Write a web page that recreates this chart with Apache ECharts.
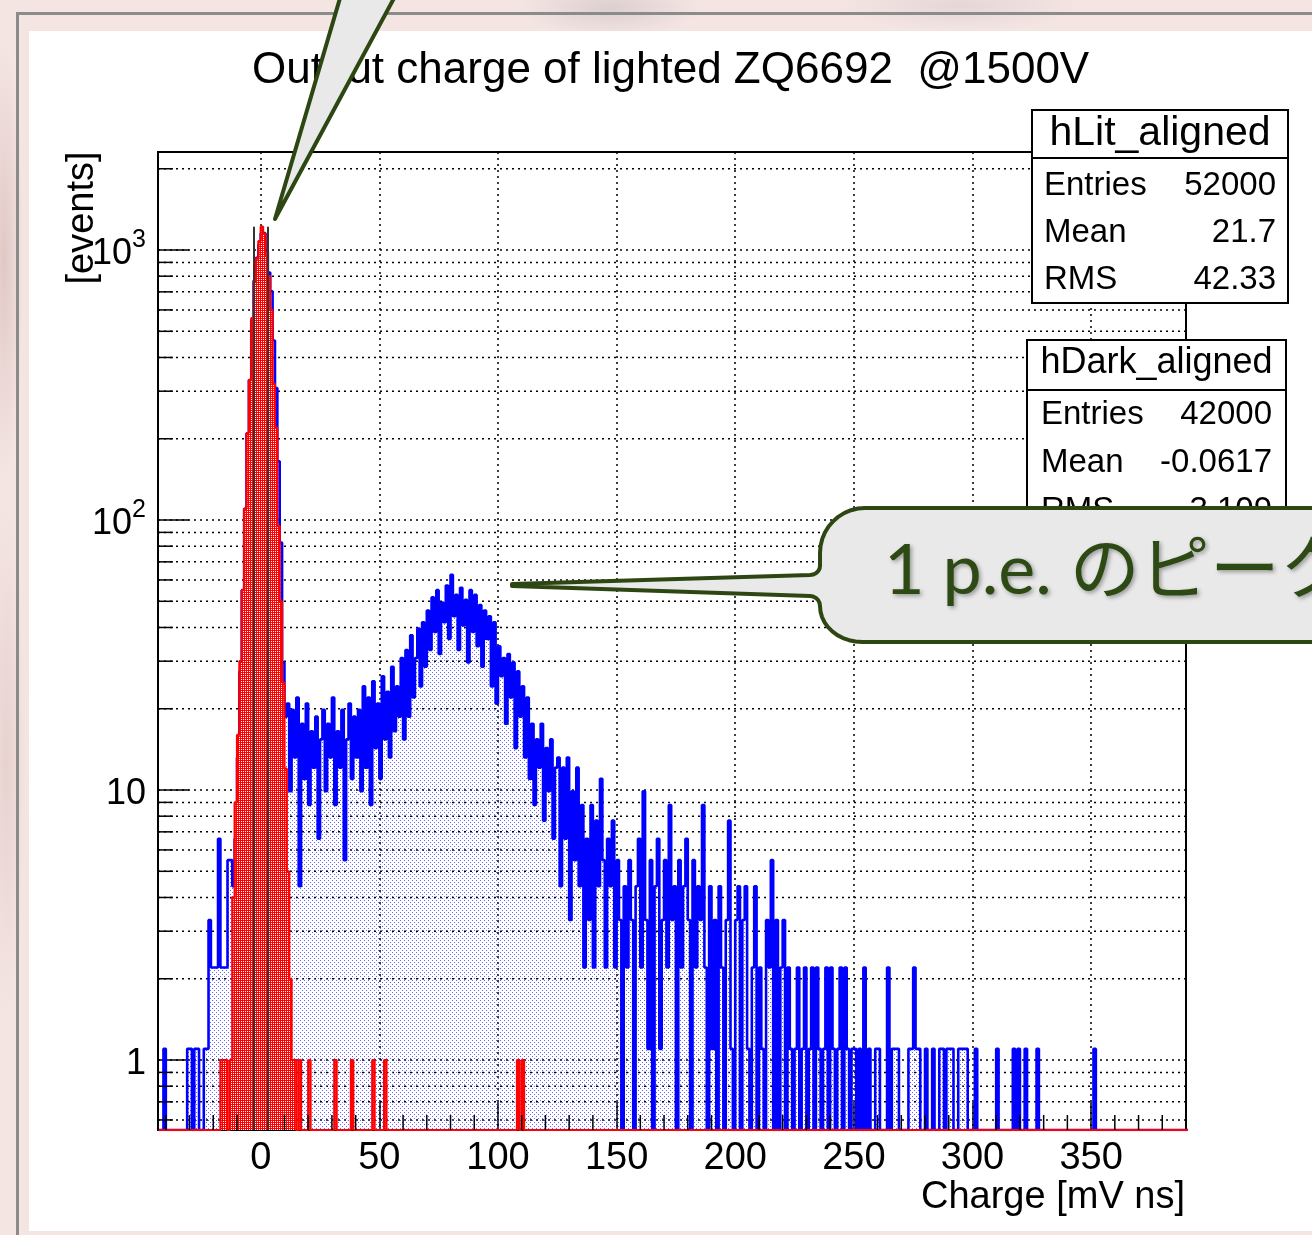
<!DOCTYPE html>
<html>
<head>
<meta charset="utf-8">
<title>Output charge of lighted ZQ6692 @1500V</title>
<script src="https://cdn.jsdelivr.net/npm/echarts@6/dist/echarts.min.js"></script>
<style>
html, body { margin: 0; padding: 0; }
body {
	width: 1312px; height: 1235px; overflow: hidden; position: relative;
	background-color: #f4e5e3;
	background-image:
		radial-gradient(ellipse 90px 30px at 610px 8px, rgba(190,180,182,0.45), rgba(190,180,182,0)),
		radial-gradient(ellipse 120px 26px at 960px 6px, rgba(200,188,190,0.35), rgba(200,188,190,0)),
		radial-gradient(ellipse 20px 220px at 4px 260px, rgba(205,170,166,0.5), rgba(205,170,166,0)),
		radial-gradient(ellipse 20px 260px at 6px 760px, rgba(215,185,182,0.45), rgba(215,185,182,0));
}
#frame { position: absolute; left: 16px; top: 12px; width: 1400px; height: 1300px;
	border-left: 3px solid #8b8b8b; border-top: 3px solid #8b8b8b; }
#sheet { position: absolute; left: 29px; top: 31px; width: 1300px; height: 1200px; background: #fff; }
#chart { position: absolute; left: 0; top: 0; width: 1312px; height: 1235px; }
</style>
</head>
<body>
<div id="frame"></div>
<div id="sheet"></div>
<div id="chart"></div>
<script>
// both histograms share the binning: bin i covers [binStart + i*binWidth, binStart + (i+1)*binWidth)
var binStart = -43;
var binWidth = 1;

// hLit_aligned, entries per bin (drawn scaled by litScale)
var litScale = 1.1;
var litCounts = [
	0,0,1,0,0,0,0,0,0,0,            // -43
	0,0,1,1,0,1,1,0,0,1,            // -33
	1,3,2,2,2,6,2,2,2,5,            // -23
	5,4,6,12,25,50,100,190,300,500, // -13
	700,850,950,1050,1050,900,750,640,420,280, // -3
	150,75,27,17,19,9,18,12,20,4,   // 7
	16,10,19,8,15,11,17,6,14,18,    // 17
	9,16,12,20,8,15,11,18,5,14,     // 27
	19,10,17,12,18,9,22,11,20,8,    // 37
	23,13,19,10,24,14,21,12,26,15,  // 47
	22,17,28,14,30,17,34,20,28,36,  // 57
	22,38,26,42,30,47,35,50,29,45,  // 67
	38,52,33,57,40,48,30,51,37,46,  // 77
	27,50,35,48,31,44,26,42,33,40,  // 87
	22,38,19,31,24,28,16,29,20,27,  // 97
	13,25,17,22,12,20,10,16,8,14,   // 107
	11,16,7,13,9,14,6,11,12,4,      // 117
	11,6,12,3,9,5,11,4,8,2,         // 127
	6,3,8,2,7,4,10,5,2,6,           // 137
	4,7,2,5,3,0,4,2,5,3,            // 147
	0,4,6,2,9,3,1,5,0,4,            // 157
	6,1,3,5,2,8,3,4,0,5,            // 167
	2,4,6,3,0,5,2,4,3,8,            // 177
	2,0,4,1,3,0,4,2,0,3,            // 187
	7,1,0,3,4,0,3,4,1,0,            // 197
	2,4,0,2,1,0,3,2,5,0,            // 207
	3,0,2,3,0,2,1,0,1,2,            // 217
	0,1,2,0,1,2,0,2,1,0,            // 227
	1,2,0,2,1,0,1,2,0,2,            // 237
	1,0,1,1,0,1,0,2,0,1,            // 247
	0,0,1,1,0,0,0,2,0,1,            // 257
	1,1,0,0,0,0,1,1,2,1,            // 267
	1,0,0,1,0,0,1,0,0,1,            // 277
	1,0,1,1,1,0,0,1,1,1,            // 287
	1,0,0,0,1,0,0,0,0,0,            // 297
	0,0,0,1,0,0,0,0,0,0,            // 307
	1,0,1,0,0,1,0,0,0,0,            // 317
	1,0,0,0,0,0,0,0,0,0,            // 327
	0,0,0,0,0,0,0,0,0,0,            // 337
	0,0,0,0,1,0,0,0,0,0,            // 347
	0,0,0,0,0,0,0,0,0,0,            // 357
	0,0,0,0,0,0,0,0,0,0,            // 367
	0,0,0,0,0,0,0,0,0,0,            // 377
	0,0,0,0,0,0                     // 387
];

// hDark_aligned, entries per bin
var darkCounts = [
	0,0,0,0,0,0,0,0,0,0,            // -43
	0,0,0,0,0,0,0,0,0,0,            // -33
	0,0,0,0,0,0,1,1,1,0,            // -23
	1,4,9,16,30,55,110,210,330,560, // -13
	760,930,1080,1220,1150,960,800,600,320,220, // -3
	95,50,25,12,5,2,1,1,0,1,        // 7
	0,0,0,1,0,0,0,0,0,0,            // 17
	0,0,0,0,1,0,0,0,0,0,            // 27
	0,1,0,0,0,0,0,0,0,0,            // 37
	1,0,0,0,0,1,0,0,0,0,            // 47
	0,0,0,0,0,0,0,0,0,0,            // 57
	0,0,0,0,0,0,0,0,0,0,            // 67
	0,0,0,0,0,0,0,0,0,0,            // 77
	0,0,0,0,0,0,0,0,0,0,            // 87
	0,0,0,0,0,0,0,0,0,0,            // 97
	0,1,0,1,0,0,0,0,0,0,            // 107
	0,0,0,0,0,0,0,0,0,0,            // 117
	0,0,0,0,0,0,0,0,0,0,            // 127
	0,0,0,0,0,0,0,0,0,0,            // 137
	0,0,0,0,0,0,0,0,0,0,            // 147
	0,0,0,0,0,0,0,0,0,0,            // 157
	0,0,0,0,0,0,0,0,0,0,            // 167
	0,0,0,0,0,0,0,0,0,0,            // 177
	0,0,0,0,0,0,0,0,0,0,            // 187
	0,0,0,0,0,0,0,0,0,0,            // 197
	0,0,0,0,0,0,0,0,0,0,            // 207
	0,0,0,0,0,0,0,0,0,0,            // 217
	0,0,0,0,0,0,0,0,0,0,            // 227
	0,0,0,0,0,0,0,0,0,0,            // 237
	0,0,0,0,0,0,0,0,0,0,            // 247
	0,0,0,0,0,0,0,0,0,0,            // 257
	0,0,0,0,0,0,0,0,0,0,            // 267
	0,0,0,0,0,0,0,0,0,0,            // 277
	0,0,0,0,0,0,0,0,0,0,            // 287
	0,0,0,0,0,0,0,0,0,0,            // 297
	0,0,0,0,0,0,0,0,0,0,            // 307
	0,0,0,0,0,0,0,0,0,0,            // 317
	0,0,0,0,0,0,0,0,0,0,            // 327
	0,0,0,0,0,0,0,0,0,0,            // 337
	0,0,0,0,0,0,0,0,0,0,            // 347
	0,0,0,0,0,0,0,0,0,0,            // 357
	0,0,0,0,0,0,0,0,0,0,            // 367
	0,0,0,0,0,0,0,0,0,0,            // 377
	0,0,0,0,0,0                     // 387
];

// two dark lines through the pedestal peak
var pedestalLines = [-2.8, 3.1];

var xRange = [-43.3, 390];
var yRange = [0.5506, 2307];
var xTicks = [0, 50, 100, 150, 200, 250, 300, 350];
var yMinorTicks = [0.6, 0.7, 0.8, 0.9, 2, 3, 4, 5, 6, 7, 8, 9, 20, 30, 40, 50, 60, 70, 80, 90,
	200, 300, 400, 500, 600, 700, 800, 900, 2000];

var titleText = 'Output charge of lighted ZQ6692  @1500V';
var xTitle = 'Charge [mV ns]';
var yTitle = '[events]';
var litStats = [['Entries', '52000'], ['Mean', '21.7'], ['RMS', '42.33']];
var darkStats = [['Entries', '42000'], ['Mean', '-0.0617'], ['RMS', '3.109']];
var calloutText = '1 p.e. のピーク';

window.onload = function(){
	var FONT = '"Liberation Sans", Arial, sans-serif';

	function pattern(w, h, bg, dots, color){
		var c = document.createElement('canvas');
		c.width = w; c.height = h;
		var g = c.getContext('2d');
		if (bg) { g.fillStyle = bg; g.fillRect(0, 0, w, h); }
		g.fillStyle = color;
		dots.forEach(function(d){ g.fillRect(d[0], d[1], 1, 1); });
		return {image: c, repeat: 'repeat'};
	}

	// histogram -> left bin edges for a step line, empty bins sit on the frame bottom
	function toSteps(counts, scale){
		var pts = [];
		for (var i = 0; i < counts.length; i++) {
			pts.push([binStart + i * binWidth, counts[i] > 0 ? counts[i] * scale : yRange[0]]);
		}
		pts.push([binStart + counts.length * binWidth, pts[pts.length - 1][1]]);
		return pts;
	}

	function arcPts(cx, cy, rx, ry, a0, a1, n){
		var p = [];
		for (var k = 0; k <= n; k++) {
			var a = a0 + (a1 - a0) * k / n;
			p.push([cx + rx * Math.cos(a), cy + ry * Math.sin(a)]);
		}
		return p;
	}

	function histo(){
		var myChart = echarts.init(document.getElementById('chart'));
		var darkPeak = Math.max.apply(null, darkCounts);

		var option = {
			backgroundColor: 'transparent',
			animation: false,
			grid: {
				left: 158, top: 152, width: 1028, height: 978,
				show: true, borderColor: '#000', borderWidth: 2,
				backgroundColor: 'transparent',
				containLabel: false, outerBoundsMode: 'none'
			},
			xAxis: {
				type: 'value', min: xRange[0], max: xRange[1],
				splitNumber: 8, minInterval: 50, maxInterval: 50,
				axisLine: {show: true, onZero: false, lineStyle: {color: '#000', width: 2}},
				axisTick: {show: true, inside: true, length: 28, lineStyle: {color: '#000', width: 1.5}},
				axisLabel: {
					color: '#000', fontSize: 38, fontFamily: FONT, margin: 10,
					formatter: function(v){
						return xTicks.indexOf(Math.round(v)) >= 0 && Math.abs(v - Math.round(v)) < 1e-6 ? String(Math.round(v)) : '';
					}
				},
				splitLine: {show: true, lineStyle: {color: '#000', width: 1.5, type: [2, 4]}}
			},
			yAxis: {
				type: 'log', logBase: 10, min: yRange[0], max: yRange[1],
				axisLine: {show: true, onZero: false, lineStyle: {color: '#000', width: 2}},
				axisTick: {show: true, inside: true, length: 31, lineStyle: {color: '#000', width: 1.5}},
				axisLabel: {
					color: '#000', margin: 12,
					formatter: function(v){
						var l = Math.log(v) / Math.LN10;
						var e = Math.round(l);
						if (Math.abs(l - e) > 1e-6) return '';
						if (e === 0) return '{b|1}';
						if (e === 1) return '{b|10}';
						return '{b|10}{s|' + e + '}';
					},
					rich: {
						b: {fontSize: 36, fontFamily: FONT, color: '#000', verticalAlign: 'bottom', padding: [9, 0, 0, 0]},
						s: {fontSize: 25, fontFamily: FONT, color: '#000', verticalAlign: 'top'}
					}
				},
				splitLine: {show: true, lineStyle: {color: '#000', width: 1.5, type: [2, 4]}}
			},
			series: [{
				name: 'hLit_aligned',
				type: 'line',
				step: 'end',
				data: toSteps(litCounts, litScale),
				symbol: 'none',
				showSymbol: false,
				silent: true,
				z: 2,
				lineStyle: {color: '#0000ff', width: 2.6},
				itemStyle: {color: '#0000ff'},
				areaStyle: {color: pattern(4, 4, null, [[0, 0], [2, 2]], 'rgba(60,60,255,0.8)'), opacity: 1, origin: 'start'}
			}, {
				name: 'hDark_aligned',
				type: 'line',
				step: 'end',
				data: toSteps(darkCounts, 1),
				symbol: 'none',
				showSymbol: false,
				silent: true,
				z: 3,
				lineStyle: {color: '#ff0000', width: 2.2},
				itemStyle: {color: '#ff0000'},
				areaStyle: {color: pattern(4, 4, '#ff0000', [[1, 1], [3, 3], [1, 3], [3, 1]], '#ffffff'), opacity: 1, origin: 'start'},
				markLine: {
					silent: true, symbol: 'none', animation: false,
					label: {show: false},
					lineStyle: {color: '#333', width: 2, type: 'solid'},
					data: pedestalLines.map(function(x){
						return [{coord: [x, yRange[0]]}, {coord: [x, darkPeak]}];
					})
				}
			}]
		};
		myChart.setOption(option);

		// minor grid lines and ticks, placed through the axes
		var els = [];
		var toPx = function(x, y){ return myChart.convertToPixel({gridIndex: 0}, [x, y]); };
		var lt = toPx(xRange[0], yRange[1]);
		var rb = toPx(xRange[1], yRange[0]);
		yMinorTicks.forEach(function(v){
			var y = toPx(0, v)[1];
			els.push({type: 'line', silent: true, z: 1,
				shape: {x1: lt[0], y1: y, x2: rb[0], y2: y},
				style: {stroke: '#000', lineWidth: 1.5, lineDash: [2, 4]}});
			els.push({type: 'line', silent: true, z: 5,
				shape: {x1: lt[0], y1: y, x2: lt[0] + 15, y2: y},
				style: {stroke: '#000', lineWidth: 1.5}});
		});
		for (var t = -40; t < xRange[1]; t += 10) {
			if (t % 50 === 0) continue;
			var x = toPx(t, 1)[0];
			els.push({type: 'line', silent: true, z: 5,
				shape: {x1: x, y1: rb[1], x2: x, y2: rb[1] - 15},
				style: {stroke: '#000', lineWidth: 1.5}});
		}

		function txt(x, y, s, size, align, extra){
			var e = {type: 'text', x: x, y: y, silent: true, z: 50,
				style: {text: s, fill: '#000', font: size + 'px ' + FONT,
					textAlign: align, align: align, textVerticalAlign: 'middle', verticalAlign: 'middle'}};
			if (extra) for (var k in extra) e[k] = extra[k];
			return e;
		}

		// title and axis titles
		els.push(txt(252, 71, titleText, 44, 'left'));
		els.push(txt(1185, 1198, xTitle, 38, 'right'));
		els.push(txt(83, 218, yTitle, 38, 'center', {rotation: Math.PI / 2}));

		// stats boxes
		function statBox(x, y, w, h, head, headSize, headY, lineY, rows, rowY, padL, padR){
			els.push({type: 'rect', silent: true, z: 49, shape: {x: x, y: y, width: w, height: h},
				style: {fill: '#fff', stroke: '#000', lineWidth: 2}});
			els.push({type: 'line', silent: true, z: 50, shape: {x1: x, y1: lineY, x2: x + w, y2: lineY},
				style: {stroke: '#000', lineWidth: 2}});
			els.push(txt(x + w / 2, headY, head, headSize, 'center'));
			rows.forEach(function(r, i){
				els.push(txt(x + padL, rowY[i], r[0], 33, 'left'));
				els.push(txt(x + w - padR, rowY[i], r[1], 33, 'right'));
			});
		}
		statBox(1032, 110, 256, 193, 'hLit_aligned', 41, 134, 158, litStats, [186, 233, 280], 12, 12);
		statBox(1027, 340, 259, 192, 'hDark_aligned', 36, 363, 390, darkStats, [415, 463, 511], 14, 14);

		// callouts
		var bubbleStyle = {fill: '#e9e9e9', stroke: '#2d4712', lineWidth: 4, lineJoin: 'round'};
		els.push({type: 'polygon', silent: true, z: 60,
			shape: {points: [[343, -12], [399.5, -12], [275, 219]]}, style: bubbleStyle});

		var pts = [[1340, 508], [865, 508]];
		pts = pts.concat(arcPts(865, 553, 45, 45, -Math.PI / 2, -Math.PI, 10));
		pts = pts.concat(arcPts(810, 566, 10, 9, 0, Math.PI / 2, 5));
		pts.push([512, 584], [512, 586]);
		pts = pts.concat(arcPts(810, 606, 10, 10, -Math.PI / 2, 0, 5));
		pts = pts.concat(arcPts(862, 606, 42, 36, Math.PI, Math.PI / 2, 10));
		pts.push([1340, 642]);
		els.push({type: 'polygon', silent: true, z: 60, shape: {points: pts}, style: bubbleStyle});
		els.push({type: 'text', x: 884, y: 571, silent: true, z: 61,
			style: {text: calloutText, fill: '#2e4a14', font: '70px Lato, "Noto Sans CJK JP", sans-serif',
				textAlign: 'left', align: 'left', textVerticalAlign: 'middle', verticalAlign: 'middle',
				textShadowColor: 'rgba(0,0,0,0.35)', textShadowBlur: 4, textShadowOffsetX: 2, textShadowOffsetY: 2}});

		myChart.setOption({graphic: {elements: els}});

		window.addEventListener('resize', function(){
			myChart.resize();
		});
	}
	histo();
};
</script>
</body>
</html>
